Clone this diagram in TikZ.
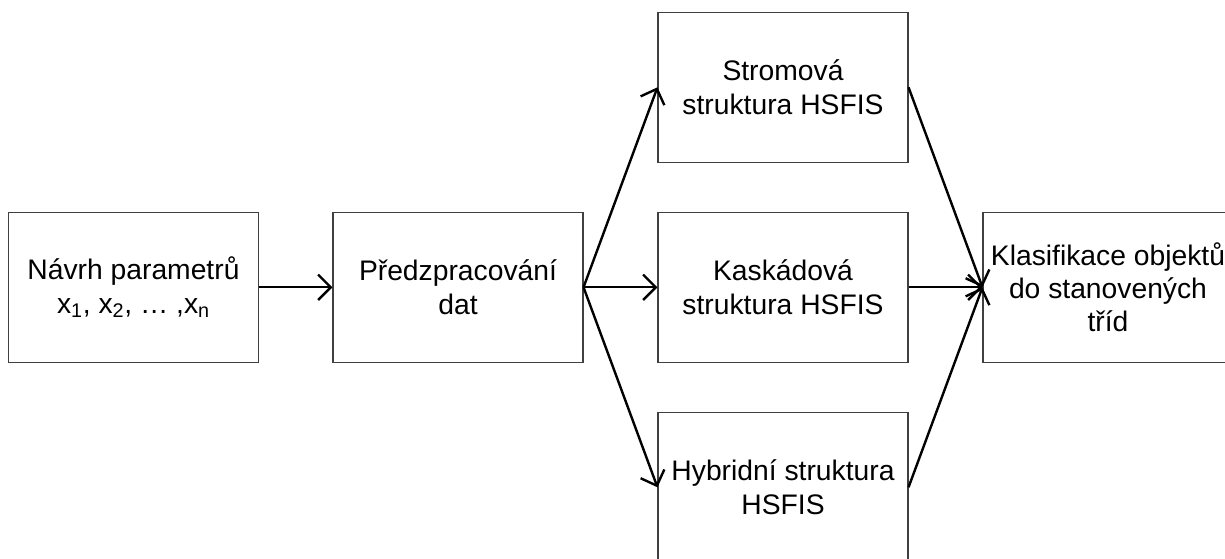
\documentclass[tikz,border=0pt]{standalone}
\usepackage{fontspec}
\setmainfont{Liberation Sans}
\usetikzlibrary{arrows.meta}
\begin{document}
\begin{tikzpicture}[x=0.75pt,y=-0.75pt,
  stage/.style={draw=black!75,line width=0.8pt,minimum width=187.5pt,minimum height=112.5pt,
    inner sep=0pt,align=center,font=\fontsize{21.2}{24.9}\selectfont},
  flow/.style={line width=1.8pt,-{Straight Barb[length=9.5pt,width=19pt,line width=1.8pt]}}]
  \clip (0,0) rectangle (1225,559);
  \node[stage] (param) at (133.5,287.3) {Návrh parametrů\\x\textsubscript{1}, x\textsubscript{2}, … ,x\textsubscript{n}};
  \node[stage] (prep) at (458,287.3) {Předzpracování\\dat};
  \node[stage] (tree) at (783,87.3) {Stromová\\struktura HSFIS};
  \node[stage] (casc) at (783,287.3) {Kaskádová\\struktura HSFIS};
  \node[stage] (hyb) at (783,487.3) {Hybridní struktura\\HSFIS};
  \node[stage] (cls) at (1108,287.3) {Klasifikace objektů\\do stanovených\\tříd};
  \draw[flow] (param.east) -- (prep.west);
  \draw[flow] (prep.east) -- (tree.west);
  \draw[flow] (prep.east) -- (casc.west);
  \draw[flow] (prep.east) -- (hyb.west);
  \draw[flow] (tree.east) -- (cls.west);
  \draw[flow] (casc.east) -- (cls.west);
  \draw[flow] (hyb.east) -- (cls.west);
\end{tikzpicture}
\end{document}
